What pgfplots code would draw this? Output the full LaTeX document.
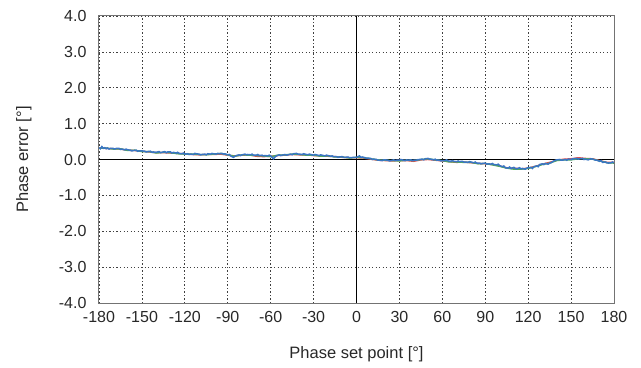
\documentclass[border=0pt]{standalone}
\usepackage{pgfplots}
\pgfplotsset{compat=1.18}
\usepackage{fontspec}
\setmainfont{Liberation Sans}
\definecolor{cblue}{RGB}{58,117,196}
\definecolor{cred}{RGB}{224,80,80}
\definecolor{cgreen}{RGB}{80,170,90}
\definecolor{txt}{RGB}{40,40,40}
\begin{document}
\begin{tikzpicture}
\begin{axis}[
  scale only axis, width=515pt, height=287pt,
  xmin=-180, xmax=180, ymin=-4, ymax=4,
  xtick={-180,-150,...,180}, ytick={-4,-3,...,4},
  /pgf/number format/assume math mode=true,
  yticklabel style={/pgf/number format/fixed,/pgf/number format/fixed zerofill,/pgf/number format/precision=1, font=\fontsize{16}{18}\selectfont, text=txt, anchor=east, xshift=-9pt},
  xticklabel style={font=\fontsize{16}{18}\selectfont, text=txt, anchor=center, yshift=-14pt},
  major tick length=0pt,
  grid=major, major grid style={black!75, dash pattern=on 1.3pt off 2.2pt, line width=0.7pt},
  axis line style={black!55, line width=1pt},
  xlabel={Phase set point [°]}, ylabel={Phase error [°]},
  xlabel style={at={(axis description cs:0.5,-0.178)}, anchor=center, font=\fontsize{16.5}{18}\selectfont, text=txt},
  ylabel style={at={(axis description cs:-0.146,0.5)}, anchor=center, rotate=0, font=\fontsize{16.5}{18}\selectfont, text=txt},
]
\addplot[black, line width=0.9pt] coordinates {(-180,0) (180,0)};
\addplot[black, line width=0.9pt] coordinates {(0,-4) (0,4)};
\addplot[cred, line width=1.4pt] coordinates {
(-180,0.32)(-175,0.31)(-170,0.30)(-165,0.29)(-160,0.26)(-155,0.25)(-150,0.23)(-145,0.21)(-140,0.19)(-135,0.19)(-130,0.18)(-125,0.17)(-120,0.16)(-115,0.14)(-110,0.13)(-105,0.14)(-100,0.14)(-95,0.15)(-90,0.12)(-85,0.10)(-80,0.12)(-75,0.13)(-70,0.09)(-65,0.08)(-60,0.09)(-55,0.11)(-50,0.12)(-45,0.14)(-40,0.13)(-35,0.13)(-30,0.11)(-25,0.10)(-20,0.09)(-15,0.08)(-10,0.06)(-5,0.05)(0,0.05)(5,0.04)(10,0.01)(15,-0.02)(20,-0.03)(25,-0.04)(30,-0.03)(35,-0.03)(40,-0.05)(45,-0.01)(50,0.00)(55,-0.02)(60,-0.04)(65,-0.06)(70,-0.08)(75,-0.07)(80,-0.09)(85,-0.11)(90,-0.12)(95,-0.14)(100,-0.18)(105,-0.23)(110,-0.24)(115,-0.26)(120,-0.24)(125,-0.19)(130,-0.13)(135,-0.08)(140,-0.02)(145,0.01)(150,0.02)(155,0.05)(160,0.03)(165,0.02)(170,-0.03)(175,-0.08)(180,-0.08)};
\addplot[cgreen, line width=1.4pt] coordinates {
(-180,0.31)(-175,0.32)(-170,0.29)(-165,0.30)(-160,0.25)(-155,0.26)(-150,0.22)(-145,0.22)(-140,0.18)(-135,0.20)(-130,0.19)(-125,0.16)(-120,0.15)(-115,0.15)(-110,0.14)(-105,0.13)(-100,0.15)(-95,0.17)(-90,0.13)(-85,0.09)(-80,0.13)(-75,0.12)(-70,0.11)(-65,0.10)(-60,0.08)(-55,0.12)(-50,0.13)(-45,0.15)(-40,0.14)(-35,0.12)(-30,0.12)(-25,0.09)(-20,0.10)(-15,0.07)(-10,0.07)(-5,0.04)(0,0.06)(5,0.05)(10,0.02)(15,-0.01)(20,-0.02)(25,-0.03)(30,-0.04)(35,-0.02)(40,-0.03)(45,0.00)(50,0.02)(55,-0.01)(60,-0.03)(65,-0.07)(70,-0.07)(75,-0.08)(80,-0.08)(85,-0.12)(90,-0.11)(95,-0.15)(100,-0.19)(105,-0.24)(110,-0.27)(115,-0.27)(120,-0.25)(125,-0.20)(130,-0.14)(135,-0.10)(140,-0.03)(145,-0.01)(150,-0.01)(155,0.02)(160,0.02)(165,0.01)(170,-0.04)(175,-0.09)(180,-0.10)};
\addplot[cblue, line width=1.5pt] coordinates {
(-180,0.33)(-179,0.30)(-178,0.36)(-177,0.31)(-176,0.33)(-175,0.30)(-174,0.32)(-173,0.29)(-172,0.31)(-170,0.31)(-169,0.29)(-168,0.31)(-166,0.31)(-165,0.28)(-164,0.29)(-162,0.27)(-161,0.29)(-160,0.27)(-158,0.26)(-157,0.24)(-156,0.25)(-154,0.26)(-153,0.23)(-152,0.24)(-150,0.24)(-148,0.23)(-147,0.21)(-146,0.22)(-144,0.23)(-143,0.20)(-142,0.21)(-140,0.20)(-138,0.22)(-137,0.19)(-136,0.20)(-134,0.22)(-133,0.19)(-132,0.21)(-130,0.21)(-129,0.18)(-128,0.20)(-126,0.18)(-125,0.20)(-124,0.17)(-122,0.16)(-121,0.18)(-120,0.15)(-118,0.16)(-117,0.14)(-116,0.15)(-114,0.14)(-113,0.17)(-112,0.16)(-110,0.15)(-109,0.13)(-108,0.14)(-106,0.15)(-105,0.13)(-104,0.16)(-102,0.15)(-101,0.17)(-100,0.16)(-98,0.15)(-97,0.17)(-96,0.16)(-94,0.17)(-93,0.15)(-92,0.16)(-90,0.13)(-89,0.14)(-88,0.10)(-86,0.06)(-85,0.09)(-84,0.11)(-82,0.13)(-81,0.11)(-80,0.13)(-78,0.15)(-77,0.13)(-76,0.14)(-74,0.13)(-73,0.15)(-72,0.12)(-70,0.12)(-69,0.14)(-68,0.11)(-66,0.12)(-65,0.10)(-64,0.11)(-62,0.10)(-61,0.12)(-60,0.10)(-58,0.02)(-57,0.07)(-56,0.10)(-54,0.13)(-53,0.11)(-52,0.12)(-50,0.14)(-49,0.12)(-48,0.13)(-46,0.15)(-45,0.13)(-44,0.16)(-42,0.17)(-41,0.15)(-40,0.15)(-38,0.14)(-37,0.16)(-36,0.15)(-34,0.13)(-33,0.15)(-32,0.14)(-30,0.12)(-29,0.14)(-28,0.13)(-26,0.11)(-25,0.13)(-24,0.12)(-22,0.10)(-21,0.12)(-20,0.11)(-18,0.09)(-17,0.10)(-16,0.08)(-14,0.08)(-13,0.06)(-12,0.07)(-10,0.08)(-9,0.06)(-8,0.06)(-6,0.07)(-5,0.05)(-4,0.05)(-2,0.06)(0,0.06)(1,0.08)(2,0.10)(3,0.06)(4,0.07)(6,0.05)(7,0.03)(8,0.04)(10,0.03)(11,0.00)(12,0.01)(14,0.00)(15,-0.02)(16,-0.02)(18,-0.03)(19,-0.01)(20,-0.01)(22,-0.02)(23,-0.04)(24,-0.03)(26,-0.01)(27,-0.03)(28,-0.02)(30,-0.02)(31,0.00)(32,-0.01)(34,-0.03)(35,-0.01)(36,-0.02)(38,-0.01)(39,-0.03)(40,-0.02)(42,-0.02)(43,0.00)(44,0.00)(46,0.01)(47,-0.01)(48,0.02)(50,0.03)(51,0.01)(52,0.01)(54,-0.01)(55,0.01)(56,-0.02)(58,-0.02)(59,-0.04)(60,-0.03)(62,-0.03)(63,-0.01)(64,-0.04)(66,-0.05)(67,-0.03)(68,-0.05)(70,-0.06)(71,-0.04)(72,-0.06)(74,-0.05)(75,-0.07)(76,-0.07)(78,-0.08)(79,-0.06)(80,-0.07)(82,-0.09)(83,-0.07)(84,-0.10)(86,-0.10)(87,-0.12)(88,-0.11)(90,-0.10)(91,-0.13)(92,-0.12)(94,-0.13)(95,-0.11)(96,-0.14)(98,-0.15)(99,-0.13)(100,-0.17)(102,-0.20)(103,-0.18)(104,-0.23)(106,-0.24)(107,-0.21)(108,-0.25)(110,-0.22)(111,-0.25)(112,-0.26)(114,-0.23)(115,-0.26)(116,-0.25)(118,-0.27)(119,-0.24)(120,-0.23)(122,-0.22)(123,-0.25)(124,-0.20)(126,-0.18)(127,-0.20)(128,-0.14)(130,-0.12)(131,-0.14)(132,-0.11)(134,-0.13)(135,-0.10)(136,-0.09)(138,-0.04)(139,-0.02)(140,-0.01)(142,0.00)(143,-0.02)(144,-0.02)(146,0.00)(147,-0.02)(148,0.01)(150,0.00)(151,0.02)(152,0.02)(154,0.03)(155,0.01)(156,0.02)(158,0.03)(159,0.00)(160,0.01)(162,-0.01)(163,0.01)(164,0.02)(166,0.00)(167,-0.02)(168,-0.02)(170,-0.05)(171,-0.03)(172,-0.08)(174,-0.07)(175,-0.09)(176,-0.10)(178,-0.09)(179,-0.07)(180,-0.09)};
\end{axis}
\path (current axis.south west) ++(-99pt,-64pt) coordinate (bl);
\path (current axis.north east) ++(27pt,16pt) coordinate (tr);
\path[use as bounding box] (bl) rectangle (tr);
\end{tikzpicture}
\end{document}
